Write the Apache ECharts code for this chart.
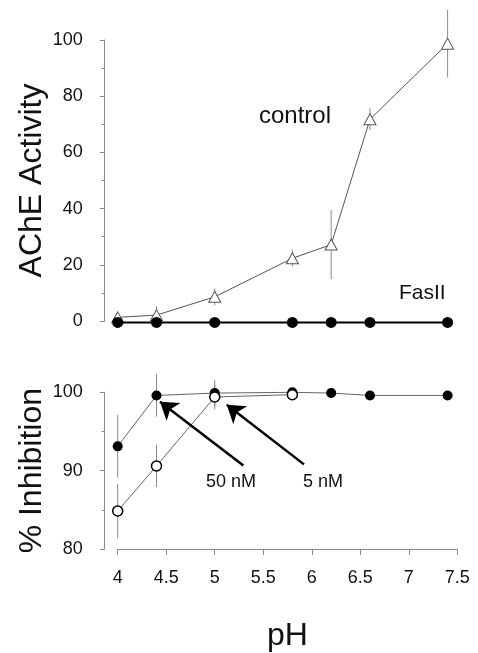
<!DOCTYPE html>
<html>
<head>
<meta charset="utf-8">
<script src="https://cdn.jsdelivr.net/npm/echarts@6/dist/echarts.min.js"></script>
<style>
html,body{margin:0;padding:0;background:#fff;}
#main{width:478px;height:653px;}
</style>
</head>
<body>
<div id="main"></div>
<script>
var chart = echarts.init(document.getElementById('main'));

// pH values (shared x)
var pH = [4.0, 4.4, 5.0, 5.8, 6.2, 6.6, 7.4];
// top panel: AChE activity
var control    = [1.3, 2.1, 8.6, 22.3, 27.2, 71.8, 98.7];
var controlErr = [0.5, 3.2, 3, 3, 12.3, 3.9, 12];
var fasII      = [-0.5, -0.5, -0.5, -0.5, -0.5, -0.5, -0.5];
// bottom panel: % inhibition
var nM50    = [93.1, 99.6, 99.9, 100, 99.9, 99.6, 99.6];
var nM50Err = [4, 2.7, 1.7, 0, 0, 0, 0];
var pH5     = [4.0, 4.4, 5.0, 5.8];
var nM5     = [84.85, 90.6, 99.4, 99.7];
var nM5Err  = [3.5, 2.7, 1.6, 0];
// arrows [tail pH, tail value, tip pH, tip value]
var arrow50 = [5.295, 90.65, 4.436, 98.8];
var arrow5  = [5.92, 90.8, 5.124, 98.4];

var FONT = 'Liberation Sans';

function pairs(xs, ys){ return xs.map(function(x,i){ return [x, ys[i]]; }); }
function errData(xs, ys, es){
  return xs.map(function(x,i){ return [x, ys[i]-es[i], ys[i]+es[i]]; });
}
function errRender(params, api){
  var lo = api.coord([api.value(0), api.value(1)]);
  var hi = api.coord([api.value(0), api.value(2)]);
  return {type:'line', shape:{x1:lo[0], y1:lo[1], x2:hi[0], y2:hi[1]},
          style:{stroke:'#8a8a8a', lineWidth:1}};
}

var axisGray = '#8c8c8c';
function yAx(idx, min, max, interval, name){
  return {
    type:'value', gridIndex:idx, min:min, max:max, interval:interval,
    offset:13,
    axisLine:{show:true, lineStyle:{color:axisGray, width:1}},
    axisTick:{show:true, length:5, lineStyle:{color:axisGray}},
    minorTick:{show:true, splitNumber:2, length:3, lineStyle:{color:axisGray}},
    splitLine:{show:false},
    axisLabel:{color:'#111', fontSize:18, fontFamily:FONT, margin:22},
    name:name, nameLocation:'middle', nameRotate:90, nameGap:57,
    nameMoveOverlap:false,
    nameTextStyle:{color:'#111', fontSize:32, fontFamily:FONT}
  };
}

var option = {
  animation:false,
  backgroundColor:'#fff',
  grid:[
    {left:117.7, right:20.7, top:40, height:281},
    {left:117.7, right:20.7, top:392.3, height:157.7}
  ],
  xAxis:[
    {type:'value', gridIndex:0, min:4, max:7.5, interval:0.5, show:false},
    {type:'value', gridIndex:1, min:4, max:7.5, interval:0.5,
     axisLine:{show:true, lineStyle:{color:axisGray}},
     axisTick:{show:true, length:6, lineStyle:{color:axisGray}},
     splitLine:{show:false},
     axisLabel:{color:'#111', fontSize:18, fontFamily:FONT, margin:20},
     name:'pH', nameLocation:'middle', nameGap:71,
     nameTextStyle:{color:'#111', fontSize:32, fontFamily:FONT}}
  ],
  yAxis:[
    yAx(0, 0, 100, 20, 'AChE Activity'),
    yAx(1, 80, 100, 10, '% Inhibition')
  ],
  graphic:[
    {type:'text', left:259, top:104, style:{text:'control', fontSize:24, fontFamily:FONT, fill:'#111'}},
    {type:'text', left:399, top:283, style:{text:'FasII', fontSize:21, fontFamily:FONT, fill:'#111'}},
    {type:'text', left:206, top:473, style:{text:'50 nM', fontSize:18, fontFamily:FONT, fill:'#111'}},
    {type:'text', left:303, top:473, style:{text:'5 nM', fontSize:18, fontFamily:FONT, fill:'#111'}}
  ],
  series:[
    {type:'custom', xAxisIndex:0, yAxisIndex:0, renderItem:errRender,
     data:errData(pH, control, controlErr), z:1, silent:true},
    {type:'line', name:'control', xAxisIndex:0, yAxisIndex:0,
     data:pairs(pH, control), symbol:'triangle', symbolSize:[12,11],
     lineStyle:{color:'#555', width:1},
     itemStyle:{color:'#fff', borderColor:'#555', borderWidth:1}, z:2},
    {type:'line', name:'FasII', xAxisIndex:0, yAxisIndex:0, clip:false,
     data:pairs(pH, fasII), symbol:'circle', symbolSize:11,
     lineStyle:{color:'#000', width:2},
     itemStyle:{color:'#000'}, z:3},

    {type:'custom', xAxisIndex:1, yAxisIndex:1, renderItem:errRender,
     data:errData(pH, nM50, nM50Err), z:1, silent:true},
    {type:'custom', xAxisIndex:1, yAxisIndex:1, renderItem:errRender,
     data:errData(pH5, nM5, nM5Err), z:1, silent:true},
    {type:'line', name:'50 nM', xAxisIndex:1, yAxisIndex:1, clip:false,
     data:pairs(pH, nM50), symbol:'circle', symbolSize:10,
     lineStyle:{color:'#666', width:1},
     itemStyle:{color:'#000'}, z:2,
     markLine:{
       silent:true, symbol:['none','arrow'], symbolSize:17,
       label:{show:false},
       lineStyle:{color:'#000', width:2.5, type:'solid'},
       itemStyle:{color:'#000'},
       data:[
         [{coord:[arrow50[0], arrow50[1]]},{coord:[arrow50[2], arrow50[3]]}],
         [{coord:[arrow5[0], arrow5[1]]},{coord:[arrow5[2], arrow5[3]]}]
       ]
     }},
    {type:'line', name:'5 nM', xAxisIndex:1, yAxisIndex:1, clip:false,
     data:pairs(pH5, nM5), symbol:'circle', symbolSize:10,
     lineStyle:{color:'#666', width:1},
     itemStyle:{color:'#fff', borderColor:'#000', borderWidth:1.5}, z:3}
  ]
};

chart.setOption(option);
</script>
</body>
</html>
